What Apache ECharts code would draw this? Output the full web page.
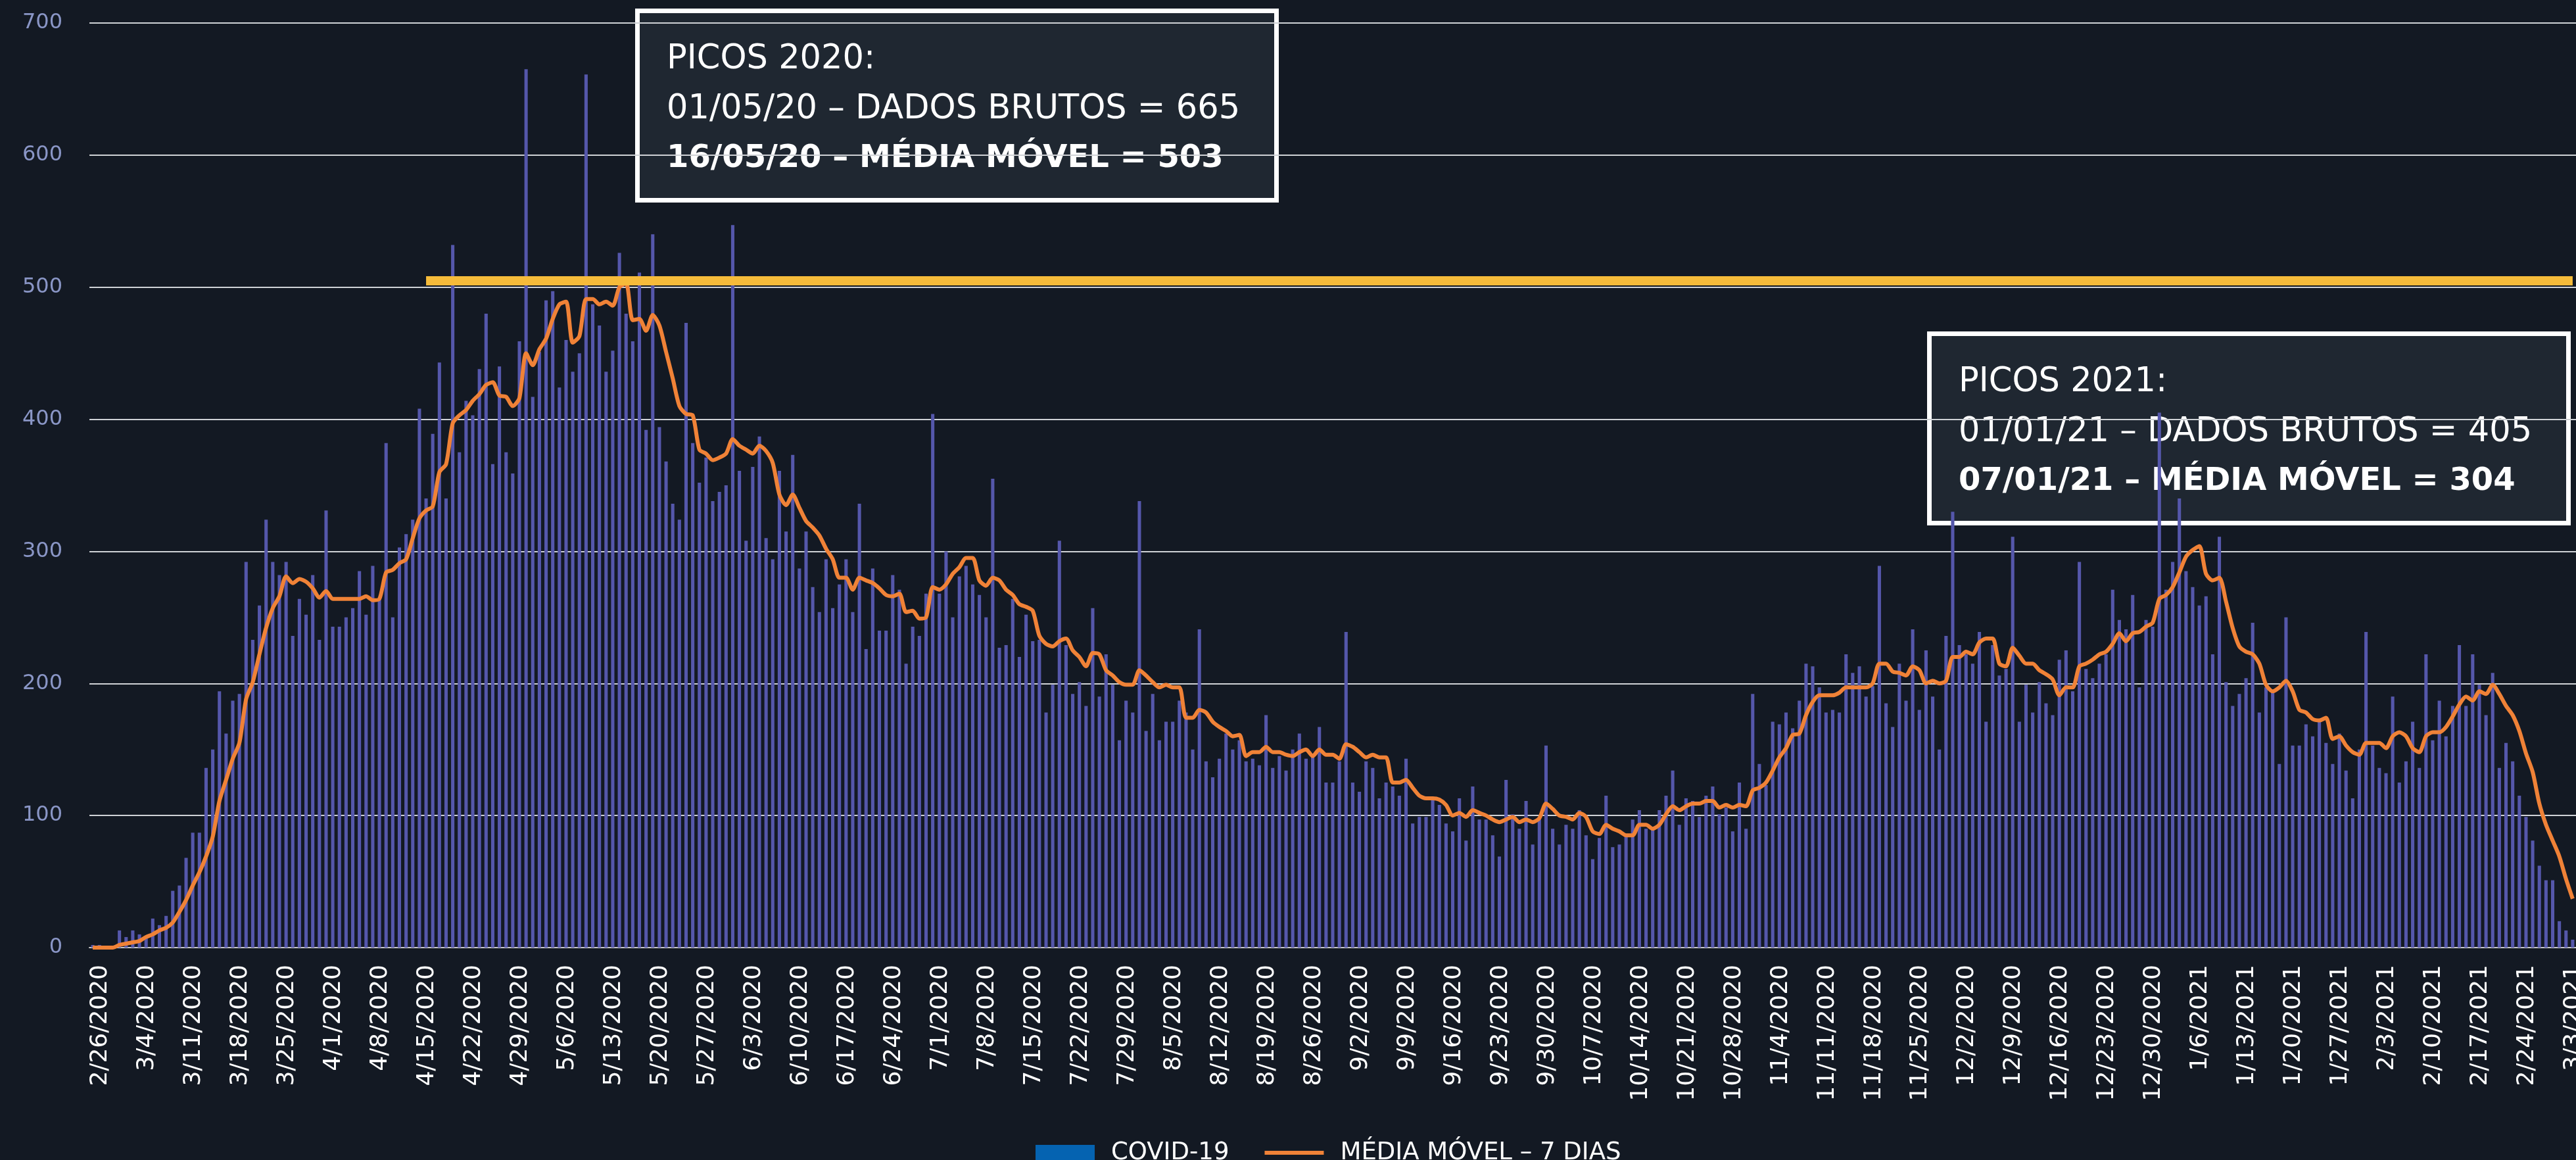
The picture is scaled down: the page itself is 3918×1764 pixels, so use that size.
<!DOCTYPE html>
<html>
<head>
<meta charset="utf-8">
<script src="https://cdn.jsdelivr.net/npm/echarts@6/dist/echarts.min.js"></script>
<style>
  html, body { margin: 0; padding: 0; background: #131923; }
  #chart { width: 3918px; height: 1764px; }
</style>
</head>
<body>
<div id="chart"></div>
<script>
// casos diarios, 26/02/2020 .. 04/03/2021
const dailyFebMar = [2, 2, 0, 0, 13, 8, 13, 10, 8, 22, 17, 24, 43, 47, 68, 87, 87, 136, 150, 194, 162, 187, 192, 292, 233, 259, 324, 292, 282, 292, 236, 264, 252, 282, 233]
const dailyApr = [331, 243, 243, 250, 257, 285, 252, 289, 264, 382, 250, 303, 313, 324, 408, 340, 389, 443, 340, 532, 375, 414, 403, 438, 480, 366, 440, 375, 359, 459]
const dailyMay = [665, 417, 451, 490, 497, 424, 460, 436, 450, 661, 487, 471, 436, 452, 526, 480, 459, 511, 392, 540, 394, 368, 336, 324, 473, 382, 352, 371, 338, 345, 350]
const dailyJun = [547, 361, 308, 364, 387, 310, 294, 361, 315, 373, 287, 315, 273, 254, 294, 257, 275, 294, 254, 336, 226, 287, 240, 240, 282, 271, 215, 243, 236, 268]
const dailyJul = [404, 268, 300, 250, 281, 289, 275, 267, 250, 355, 227, 229, 264, 220, 252, 232, 233, 178, 199, 308, 229, 192, 201, 183, 257, 190, 222, 199, 157, 187, 178]
const dailyAug = [338, 164, 192, 157, 171, 171, 187, 178, 150, 241, 141, 129, 143, 162, 150, 157, 141, 143, 138, 176, 136, 145, 134, 150, 162, 143, 145, 167, 125, 125, 141]
const dailySep = [239, 125, 118, 141, 136, 113, 125, 122, 115, 143, 94, 99, 99, 112, 108, 94, 88, 113, 81, 122, 97, 97, 85, 69, 127, 101, 90, 111, 78, 97]
const dailyOct = [153, 90, 78, 93, 90, 104, 85, 67, 83, 115, 76, 78, 85, 97, 104, 90, 90, 104, 115, 134, 93, 113, 111, 99, 115, 122, 101, 106, 88, 125, 90]
const dailyNov = [192, 139, 123, 171, 169, 178, 166, 187, 215, 213, 197, 178, 180, 178, 222, 208, 213, 190, 198, 289, 185, 167, 215, 187, 241, 180, 225, 190, 150, 236]
const dailyDec = [330, 229, 222, 215, 239, 171, 229, 206, 211, 311, 171, 199, 178, 201, 185, 176, 218, 225, 194, 292, 211, 204, 215, 222, 271, 248, 241, 267, 197, 248, 243]
const dailyJan = [405, 271, 292, 340, 285, 273, 259, 266, 222, 311, 201, 183, 192, 204, 246, 178, 197, 194, 139, 250, 153, 153, 169, 160, 171, 155, 139, 162, 134, 113, 150]
const dailyFebMar21 = [239, 153, 136, 132, 190, 125, 141, 171, 136, 222, 157, 187, 160, 183, 229, 183, 222, 199, 176, 208, 136, 155, 141, 115, 99, 81, 62, 51, 51, 20, 13, 6]

// media movel 7 dias
const maFebMar = [0, 0, 0, 0, 2, 3, 4, 5, 8, 10, 13, 15, 19, 27, 36, 47, 57, 69, 84, 111, 127, 143, 155, 188, 201, 222, 242, 257, 266, 281, 276, 279, 277, 272, 265]
const maApr = [270, 264, 264, 264, 264, 264, 266, 263, 264, 284, 286, 291, 294, 310, 325, 331, 334, 360, 366, 397, 403, 407, 414, 419, 426, 428, 418, 417, 410, 416]
const maMay = [450, 441, 453, 461, 476, 487, 489, 458, 463, 491, 491, 487, 489, 486, 500, 503, 475, 476, 467, 479, 471, 451, 431, 410, 404, 403, 377, 374, 369, 371, 374]
const maJun = [385, 380, 377, 374, 380, 376, 367, 343, 335, 343, 333, 323, 318, 312, 302, 294, 280, 280, 271, 280, 278, 276, 272, 267, 266, 268, 254, 255, 249, 250]
const maJul = [273, 271, 275, 283, 288, 295, 295, 278, 274, 280, 278, 271, 267, 260, 258, 255, 236, 230, 228, 232, 234, 225, 220, 213, 223, 222, 210, 206, 201, 199, 199]
const maAug = [210, 206, 201, 197, 199, 197, 197, 174, 174, 180, 178, 171, 167, 164, 160, 161, 145, 148, 148, 152, 148, 148, 146, 145, 148, 150, 145, 150, 146, 146, 143]
const maSep = [154, 152, 148, 144, 146, 144, 144, 125, 125, 127, 121, 115, 113, 113, 112, 108, 100, 102, 99, 104, 102, 100, 97, 95, 97, 99, 95, 97, 95, 98]
const maOct = [109, 105, 100, 99, 97, 102, 99, 88, 86, 93, 90, 88, 85, 85, 93, 93, 90, 93, 101, 107, 104, 107, 109, 109, 111, 111, 106, 108, 106, 108, 107]
const maNov = [119, 121, 125, 134, 144, 151, 161, 162, 176, 186, 191, 191, 191, 193, 197, 197, 197, 197, 200, 215, 215, 209, 208, 206, 213, 210, 200, 202, 200, 202]
const maDec = [220, 220, 224, 222, 231, 234, 234, 215, 213, 227, 221, 215, 215, 210, 207, 203, 191, 197, 197, 213, 215, 218, 222, 224, 230, 238, 232, 238, 239, 243, 246]
const maJan = [264, 267, 273, 284, 296, 301, 304, 283, 278, 280, 262, 242, 228, 224, 222, 215, 199, 194, 197, 202, 194, 180, 178, 173, 172, 174, 158, 160, 153, 148, 146]
const maFebMar21 = [155, 155, 155, 151, 160, 163, 160, 151, 148, 160, 163, 163, 167, 175, 184, 190, 187, 194, 192, 199, 192, 183, 176, 164, 147, 133, 109, 93, 81, 69, 52, 37]

const yTicks = [0, 100, 200, 300, 400, 500, 600, 700]
const peakLevel = 505      // linha amarela do pico 2020
const peakLineStart = 50   // 16/04/2020

const box2020 = ['PICOS 2020:', '01/05/20 – DADOS BRUTOS = 665', '16/05/20 – MÉDIA MÓVEL = 503']
const box2021 = ['PICOS 2021:', '01/01/21 – DADOS BRUTOS = 405', '07/01/21 – MÉDIA MÓVEL = 304']

const daily = [].concat(dailyFebMar, dailyApr, dailyMay, dailyJun, dailyJul, dailyAug,
    dailySep, dailyOct, dailyNov, dailyDec, dailyJan, dailyFebMar21)
const movingAvg = [].concat(maFebMar, maApr, maMay, maJun, maJul, maAug,
    maSep, maOct, maNov, maDec, maJan, maFebMar21)

// rotulos M/D/AAAA
const dates = []
for (let i = 0; i < daily.length; i++) {
    const d = new Date(2020, 1, 26 + i)
    dates.push((d.getMonth() + 1) + '/' + d.getDate() + '/' + d.getFullYear())
}

const FONT = '"DejaVu Sans", sans-serif'
const ORANGE = '#f08237'

function noteBox(x, y, lines) {
    const w = 979, h = 295
    return {
        type: 'group',
        z: 100,
        children: [
            {
                type: 'rect',
                shape: { x: x + 3.5, y: y + 3.5, width: w - 7, height: h - 7 },
                style: { fill: '#1f2731', stroke: '#ffffff', lineWidth: 7 }
            },
            ...lines.map((t, i) => ({
                type: 'text',
                x: x + 48,
                y: y + 78 + i * 75.5,
                style: {
                    text: t,
                    fill: '#ffffff',
                    fontSize: i === 2 ? 48 : 51,
                    fontFamily: FONT,
                    fontWeight: i === 2 ? 'bold' : 'normal',
                    verticalAlign: 'middle'
                }
            }))
        ]
    }
}

const dom = echarts.init(document.getElementById('chart'))
const option = {
    backgroundColor: '#131923',
    animation: false,
    grid: {
        left: 136,
        right: 0,
        top: 35,
        bottom: 323,
        containLabel: false,
        outerBoundsMode: 'none'
    },
    legend: {
        left: 1570,
        top: 1726,
        itemWidth: 90,
        itemHeight: 24,
        itemGap: 51,
        textStyle: {
            color: '#ffffff',
            fontSize: 37,
            fontFamily: FONT,
            lineHeight: 44,
            padding: [0, 0, 0, 20]
        },
        data: [
            { name: 'COVID-19', icon: 'rect', itemStyle: { color: '#0563b1' } },
            {
                name: 'MÉDIA MÓVEL – 7 DIAS',
                itemStyle: { opacity: 0 },
                lineStyle: { color: ORANGE, width: 6, opacity: 1 }
            }
        ]
    },
    xAxis: {
        type: 'category',
        data: dates,
        boundaryGap: true,
        axisLine: { lineStyle: { color: '#c8c8c8', width: 2 } },
        axisTick: { interval: 6, length: 14, lineStyle: { color: '#c8c8c8', width: 2 } },
        axisLabel: {
            interval: 6,
            rotate: 90,
            margin: 26,
            color: '#ffffff',
            fontSize: 36,
            fontFamily: FONT,
            verticalAlign: 'top',
            lineHeight: 24
        },
        splitLine: { show: false }
    },
    yAxis: {
        type: 'value',
        min: yTicks[0],
        max: yTicks[yTicks.length - 1],
        interval: 100,
        axisLine: { show: false },
        axisTick: { show: false },
        axisLabel: { color: '#8a96c6', fontSize: 32, fontFamily: FONT, margin: 41 },
        splitLine: { lineStyle: { color: '#cfd2d6', width: 2 } }
    },
    series: [
        {
            name: 'COVID-19',
            type: 'bar',
            data: daily,
            barWidth: '50%',
            itemStyle: { color: '#5557ab' },
            markLine: {
                silent: true,
                symbol: 'none',
                label: { show: false },
                emphasis: { disabled: true },
                lineStyle: { color: '#f6bb3a', width: 14, type: 'solid' },
                data: [[
                    { coord: [dates[peakLineStart], peakLevel] },
                    { coord: [dates[dates.length - 1], peakLevel] }
                ]]
            }
        },
        {
            name: 'MÉDIA MÓVEL – 7 DIAS',
            type: 'line',
            data: movingAvg,
            symbol: 'none',
            smooth: 0.25,
            itemStyle: { color: ORANGE },
            lineStyle: { color: ORANGE, width: 6 }
        }
    ],
    graphic: [
        noteBox(966, 13, box2020),
        noteBox(2931, 504, box2021)
    ]
}
dom.setOption(option)
</script>
</body>
</html>
